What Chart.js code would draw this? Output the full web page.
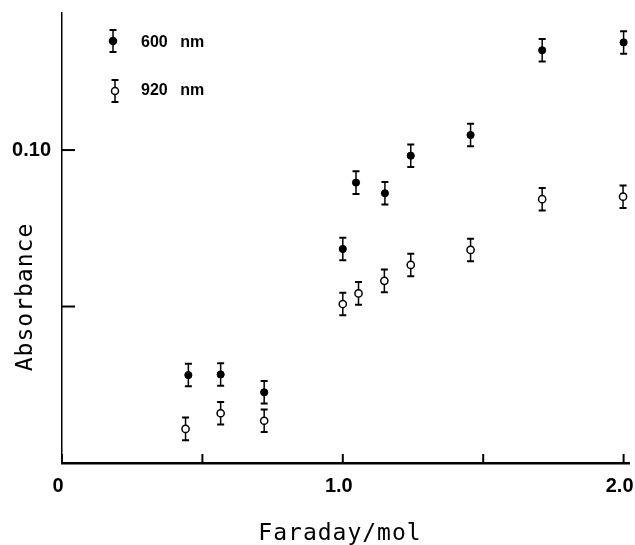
<!DOCTYPE html>
<html>
<head>
<meta charset="utf-8">
<script src="https://cdn.jsdelivr.net/npm/chart.js@4.4.0/dist/chart.umd.min.js"></script>
<style>
html, body { margin: 0; padding: 0; background: #fff; }
</style>
</head>
<body>
<canvas id="absChart" width="635" height="545"></canvas>
<script>
// 600 nm, filled circles
const x600 = [0.45, 0.565, 0.72, 1.0, 1.047, 1.15, 1.242, 1.455, 1.71, 2.0];
const y600 = [0.0281, 0.0283, 0.0226, 0.0684, 0.0896, 0.0862, 0.0982, 0.1048, 0.1319, 0.1344];
const err600 = [0.0036, 0.0036, 0.0036, 0.0036, 0.0036, 0.0036, 0.0036, 0.0036, 0.0036, 0.0036];

// 920 nm, open circles
const x920 = [0.44, 0.565, 0.72, 1.0, 1.056, 1.148, 1.242, 1.455, 1.71, 1.998];
const y920 = [0.0109, 0.0159, 0.0135, 0.0508, 0.0542, 0.0582, 0.0633, 0.0681, 0.0843, 0.0851];
const err920 = [0.0036, 0.0036, 0.0036, 0.0036, 0.0036, 0.0036, 0.0036, 0.0036, 0.0036, 0.0036];

const seriesLabels = ['600 nm', '920 nm'];
const xTickValues = [0, 0.5, 1.0, 1.5, 2.0];
const xTickLabels = ['0', '', '1.0', '', '2.0'];
const yTickValues = [0.05, 0.10];
const yTickLabels = ['', '0.10'];
const xTitle = 'Faraday/mol';
const yTitle = 'Absorbance';

const tickFont = { family: "'Liberation Sans Narrow', 'Liberation Sans', sans-serif", size: 20, weight: 'bold' };
const titleFont = "23px 'DejaVu Sans Mono', monospace";
const legendFont = "bold 16px 'Liberation Sans Narrow', 'Liberation Sans', sans-serif";

function toPoints(xs, ys) {
    return xs.map((x, i) => ({ x: x, y: ys[i] }));
}

function drawErrBar(ctx, px, yTop, yBot) {
    ctx.lineWidth = 1.5;
    ctx.beginPath();
    ctx.moveTo(px, yTop);
    ctx.lineTo(px, yBot);
    ctx.stroke();
    ctx.lineWidth = 2;
    ctx.beginPath();
    ctx.moveTo(px - 3.5, yTop);
    ctx.lineTo(px + 3.5, yTop);
    ctx.moveTo(px - 3.5, yBot);
    ctx.lineTo(px + 3.5, yBot);
    ctx.stroke();
}

const errors = [err600, err920];

const errorBarPlugin = {
    id: 'errorBars',
    beforeDatasetsDraw(chart) {
        const ctx = chart.ctx;
        const xs = chart.scales.x, ys = chart.scales.y;
        ctx.save();
        ctx.strokeStyle = '#000';
        chart.data.datasets.forEach((ds, i) => {
            ds.data.forEach((p, j) => {
                const px = xs.getPixelForValue(p.x);
                const top = ys.getPixelForValue(p.y + errors[i][j]);
                const bot = ys.getPixelForValue(p.y - errors[i][j]);
                drawErrBar(ctx, px, top, bot);
            });
        });
        ctx.restore();
    }
};

const decorPlugin = {
    id: 'decor',
    afterDraw(chart) {
        const ctx = chart.ctx;
        const xs = chart.scales.x, ys = chart.scales.y;
        const area = chart.chartArea;
        ctx.save();
        ctx.strokeStyle = '#000';
        ctx.fillStyle = '#000';

        // inward tick marks
        ctx.lineWidth = 2;
        xTickValues.forEach(v => {
            const px = xs.getPixelForValue(v);
            ctx.beginPath();
            ctx.moveTo(px, area.bottom);
            ctx.lineTo(px, area.bottom - 9);
            ctx.stroke();
        });
        yTickValues.forEach(v => {
            const py = ys.getPixelForValue(v);
            ctx.beginPath();
            ctx.moveTo(area.left, py);
            ctx.lineTo(area.left + 13, py);
            ctx.stroke();
        });

        // axis titles
        ctx.font = titleFont;
        ctx.letterSpacing = '1px';
        ctx.textAlign = 'center';
        ctx.textBaseline = 'alphabetic';
        ctx.fillText(xTitle, 340, 540);
        ctx.save();
        ctx.translate(32, 297);
        ctx.rotate(-Math.PI / 2);
        ctx.fillText(yTitle, 0, 0);
        ctx.restore();
        ctx.letterSpacing = '0px';

        // legend
        const rows = [
            { mx: 113, my: 41, ty: 43, filled: true },
            { mx: 115, my: 91, ty: 91, filled: false }
        ];
        rows.forEach((r, i) => {
            drawErrBar(ctx, r.mx, r.my - 11, r.my + 11);
            ctx.beginPath();
            ctx.arc(r.mx, r.my, 3.5, 0, Math.PI * 2);
            ctx.fillStyle = r.filled ? '#000' : '#fff';
            ctx.fill();
            ctx.lineWidth = 1.5;
            ctx.stroke();
            ctx.fillStyle = '#000';
            ctx.font = legendFont;
            ctx.wordSpacing = '8px';
            ctx.textAlign = 'left';
            ctx.textBaseline = 'middle';
            ctx.fillText(seriesLabels[i], 141, r.ty);
            ctx.wordSpacing = '0px';
        });
        ctx.restore();
    }
};

const ctx = document.getElementById('absChart').getContext('2d');
const absChart = new Chart(ctx, {
    type: 'scatter',
    data: {
        datasets: [{
            label: seriesLabels[0],
            data: toPoints(x600, y600),
            pointStyle: 'circle',
            pointRadius: 3.6,
            pointBackgroundColor: '#000',
            pointBorderColor: '#000',
            pointBorderWidth: 1
        }, {
            label: seriesLabels[1],
            data: toPoints(x920, y920),
            pointStyle: 'circle',
            pointRadius: 3.6,
            pointBackgroundColor: '#fff',
            pointBorderColor: '#000',
            pointBorderWidth: 1.5
        }]
    },
    options: {
        responsive: false,
        animation: false,
        layout: { padding: { left: 0, top: 13, right: 4, bottom: 0 } },
        plugins: {
            legend: { display: false },
            tooltip: { enabled: false }
        },
        scales: {
            x: {
                type: 'linear',
                min: 0,
                max: 2.021,
                grid: { display: false, drawTicks: false },
                border: { display: true, color: '#000', width: 2.5 },
                afterBuildTicks: scale => { scale.ticks = xTickValues.map(v => ({ value: v })); },
                afterFit: scale => { scale.height = 82; scale.paddingRight = 0; scale.paddingLeft = 0; },
                ticks: {
                    color: '#000',
                    font: tickFont,
                    padding: 11,
                    labelOffset: -4,
                    maxRotation: 0,
                    autoSkip: false,
                    callback: (v, i) => xTickLabels[i]
                }
            },
            y: {
                type: 'linear',
                min: 0,
                max: 0.1438,
                grid: { display: false, drawTicks: false },
                border: { display: true, color: '#000', width: 1.5 },
                afterBuildTicks: scale => { scale.ticks = yTickValues.map(v => ({ value: v })); },
                afterFit: scale => { scale.width = 62; scale.paddingTop = 0; scale.paddingBottom = 0; },
                ticks: {
                    color: '#000',
                    font: tickFont,
                    padding: 11,
                    autoSkip: false,
                    callback: (v, i) => yTickLabels[i]
                }
            }
        }
    },
    plugins: [errorBarPlugin, decorPlugin]
});
</script>
</body>
</html>
